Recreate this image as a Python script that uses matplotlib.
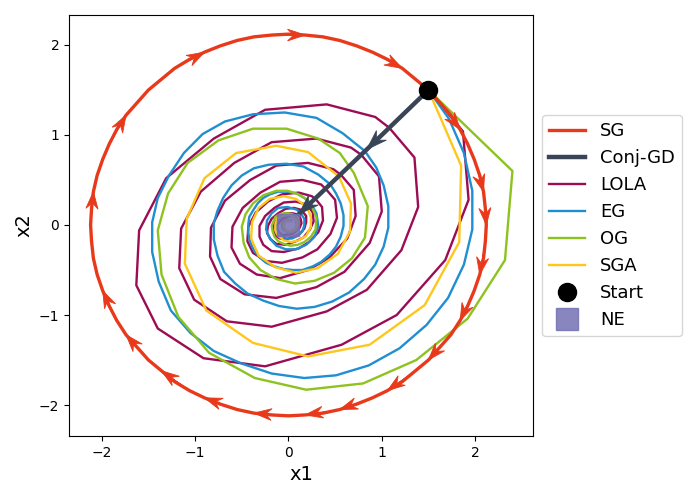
import numpy as np
import matplotlib.pyplot as plt

# trajectories, (x1, x2) pairs
sg_x = [1.50, 1.62, 1.74, 1.84, 1.92, 1.99, 2.05, 2.09, 2.11, 2.12, 2.11, 2.09, 2.05, 1.99, 1.92, 1.84, 1.74, 1.62,
        1.50, 1.36, 1.22, 1.06, 0.90, 0.73, 0.55, 0.37, 0.18, 0.00, -0.18, -0.37, -0.55, -0.73, -0.90, -1.06, -1.22, -1.36,
        -1.50, -1.62, -1.74, -1.84, -1.92, -1.99, -2.05, -2.09, -2.11, -2.12, -2.11, -2.09, -2.05, -1.99, -1.92, -1.84, -1.74, -1.62,
        -1.50, -1.36, -1.22, -1.06, -0.90, -0.73, -0.55, -0.37, -0.18, 0.00, 0.18, 0.37, 0.55, 0.73, 0.90, 1.06, 1.22, 1.36, 1.50]
sg_y = [1.50, 1.36, 1.22, 1.06, 0.90, 0.73, 0.55, 0.37, 0.18, 0.00, -0.18, -0.37, -0.55, -0.73, -0.90, -1.06, -1.22, -1.36,
        -1.50, -1.62, -1.74, -1.84, -1.92, -1.99, -2.05, -2.09, -2.11, -2.12, -2.11, -2.09, -2.05, -1.99, -1.92, -1.84, -1.74, -1.62,
        -1.50, -1.36, -1.22, -1.06, -0.90, -0.73, -0.55, -0.37, -0.18, 0.00, 0.18, 0.37, 0.55, 0.73, 0.90, 1.06, 1.22, 1.36,
        1.50, 1.62, 1.74, 1.84, 1.92, 1.99, 2.05, 2.09, 2.11, 2.12, 2.11, 2.09, 2.05, 1.99, 1.92, 1.84, 1.74, 1.62, 1.50]
sg_arrows = [70, 3, 7, 9, 12, 15, 18, 21, 24, 26, 29, 32, 35, 38, 41, 47, 52, 58, 64]

conj_pts = [(1.50, 1.50), (0.84, 0.84), (0.11, 0.12)]
conj_arrows = [1, 2]

lola_pts = [
    (1.50, 1.50), (1.87, 1.04), (1.93, 0.28), (1.68, -0.39), (1.16, -1.00), (0.57, -1.33), (-0.25, -1.57), (-0.91, -1.48),
    (-1.40, -1.15), (-1.63, -0.67), (-1.60, -0.06), (-1.31, 0.52), (-0.80, 0.96), (-0.25, 1.28), (0.41, 1.34), (0.93, 1.20),
    (1.08, 1.08), (1.35, 0.75), (1.39, 0.20), (1.21, -0.28), (0.84, -0.72), (0.41, -0.96), (-0.18, -1.13), (-0.66, -1.07),
    (-1.01, -0.83), (-1.17, -0.48), (-1.15, -0.04), (-0.94, 0.37), (-0.58, 0.69), (-0.18, 0.92), (0.30, 0.96), (0.67, 0.86),
    (0.78, 0.78), (0.97, 0.54), (1.00, 0.15), (0.87, -0.20), (0.60, -0.52), (0.30, -0.69), (-0.13, -0.81), (-0.47, -0.77),
    (-0.73, -0.60), (-0.84, -0.35), (-0.83, -0.03), (-0.68, 0.27), (-0.41, 0.50), (-0.13, 0.66), (0.21, 0.69), (0.48, 0.62),
    (0.56, 0.56), (0.70, 0.39), (0.72, 0.10), (0.63, -0.15), (0.43, -0.37), (0.21, -0.50), (-0.09, -0.59), (-0.34, -0.55),
    (-0.52, -0.43), (-0.61, -0.25), (-0.60, -0.02), (-0.49, 0.19), (-0.30, 0.36), (-0.09, 0.48), (0.15, 0.50), (0.35, 0.45),
    (0.40, 0.40), (0.50, 0.28), (0.52, 0.08), (0.45, -0.10), (0.31, -0.27), (0.15, -0.36), (-0.07, -0.42), (-0.24, -0.40),
    (-0.38, -0.31), (-0.44, -0.18), (-0.43, -0.02), (-0.35, 0.14), (-0.22, 0.26), (-0.07, 0.34), (0.11, 0.36), (0.25, 0.32),
    (0.29, 0.29), (0.36, 0.20), (0.37, 0.05), (0.32, -0.08), (0.22, -0.19), (0.11, -0.26), (-0.05, -0.30), (-0.18, -0.29),
    (-0.27, -0.22), (-0.31, -0.13), (-0.31, -0.01), (-0.25, 0.10), (-0.15, 0.19), (-0.05, 0.25), (0.08, 0.26), (0.18, 0.23),
    (0.21, 0.21), (0.26, 0.14), (0.27, 0.04), (0.23, -0.05), (0.16, -0.14), (0.08, -0.18), (-0.03, -0.22), (-0.13, -0.21),
    (-0.19, -0.16), (-0.23, -0.09), (-0.22, -0.01), (-0.18, 0.07), (-0.11, 0.13), (-0.03, 0.18), (0.06, 0.19), (0.13, 0.17),
    (0.15, 0.15), (0.19, 0.10), (0.19, 0.03), (0.17, -0.04), (0.12, -0.10), (0.06, -0.13), (-0.03, -0.16), (-0.09, -0.15),
    (-0.14, -0.12), (-0.16, -0.07), (-0.16, -0.01), (-0.13, 0.05), (-0.08, 0.10), (-0.03, 0.13), (0.04, 0.13), (0.09, 0.12),
    (0.11, 0.11), (0.13, 0.07), (0.14, 0.02), (0.12, -0.03), (0.08, -0.07), (0.04, -0.10), (-0.02, -0.11), (-0.07, -0.11),
    (-0.10, -0.08), (-0.12, -0.05), (-0.12, 0.00), (-0.09, 0.04), (-0.06, 0.07), (-0.02, 0.09), (0.03, 0.10), (0.07, 0.09),
]

eg_pts = [
    (1.50, 1.50), (1.72, 1.18), (1.88, 0.80), (1.97, 0.38), (1.97, -0.05), (1.88, -0.44), (1.71, -0.81), (1.48, -1.11),
    (1.19, -1.37), (0.86, -1.56), (0.51, -1.67), (0.17, -1.70), (-0.18, -1.65), (-0.50, -1.54), (-0.80, -1.40), (-1.05, -1.20),
    (-1.26, -0.95), (-1.39, -0.63), (-1.46, -0.30), (-1.46, 0.03), (-1.40, 0.30), (-1.28, 0.55), (-1.12, 0.80), (-0.92, 1.01),
    (-0.68, 1.15), (-0.38, 1.23), (-0.04, 1.25), (0.30, 1.19), (0.58, 1.02),
    (0.82, 0.82), (0.94, 0.64), (1.02, 0.44), (1.07, 0.21), (1.07, -0.03), (1.02, -0.24), (0.93, -0.44), (0.81, -0.60),
    (0.65, -0.75), (0.47, -0.85), (0.28, -0.91), (0.09, -0.93), (-0.10, -0.90), (-0.27, -0.84), (-0.44, -0.76), (-0.57, -0.65),
    (-0.69, -0.52), (-0.76, -0.34), (-0.80, -0.16), (-0.80, 0.02), (-0.76, 0.16), (-0.70, 0.30), (-0.61, 0.44), (-0.50, 0.55),
    (-0.37, 0.63), (-0.21, 0.67), (-0.02, 0.68), (0.16, 0.65), (0.32, 0.56),
    (0.45, 0.45), (0.51, 0.35), (0.56, 0.24), (0.59, 0.11), (0.59, -0.01), (0.56, -0.13), (0.51, -0.24), (0.44, -0.33),
    (0.35, -0.41), (0.26, -0.46), (0.15, -0.50), (0.05, -0.50), (-0.05, -0.49), (-0.15, -0.46), (-0.24, -0.42), (-0.31, -0.36),
    (-0.37, -0.28), (-0.41, -0.19), (-0.43, -0.09), (-0.43, 0.01), (-0.42, 0.09), (-0.38, 0.16), (-0.33, 0.24), (-0.27, 0.30),
    (-0.20, 0.34), (-0.11, 0.37), (-0.01, 0.37), (0.09, 0.35), (0.17, 0.30),
    (0.24, 0.24), (0.30, 0.13), (0.32, -0.01), (0.28, -0.13), (0.19, -0.22), (0.08, -0.27), (-0.03, -0.27), (-0.13, -0.23),
    (-0.20, -0.15), (-0.24, -0.05), (-0.23, 0.05), (-0.18, 0.13), (-0.11, 0.19), (-0.01, 0.20), (0.09, 0.17),
    (0.13, 0.13), (0.17, 0.07), (0.17, 0.00), (0.15, -0.07), (0.10, -0.12), (0.04, -0.15), (-0.02, -0.15), (-0.07, -0.12),
    (-0.11, -0.08), (-0.13, -0.03), (-0.12, 0.03), (-0.10, 0.07), (-0.06, 0.10), (0.00, 0.11), (0.05, 0.09),
    (0.07, 0.07), (0.09, 0.00), (0.06, -0.07), (0.00, -0.08), (-0.06, -0.05), (-0.07, 0.01), (-0.03, 0.06), (0.03, 0.05),
]

og_pts = [
    (1.50, 1.50),
    (2.40, 0.60), (2.32, -0.39), (1.92, -1.04), (1.37, -1.50), (0.80, -1.76), (0.19, -1.83), (-0.36, -1.70), (-0.85, -1.42),
    (-1.18, -1.02), (-1.36, -0.55), (-1.40, -0.06), (-1.29, 0.35), (-1.08, 0.69), (-0.75, 0.94), (-0.38, 1.07), (-0.02, 1.07),
    (0.32, 0.96), (0.55, 0.80), (0.70, 0.58),
    (0.85, 0.21), (0.82, -0.14), (0.68, -0.37), (0.49, -0.53), (0.28, -0.62), (0.07, -0.65), (-0.13, -0.60), (-0.30, -0.50),
    (-0.42, -0.36), (-0.48, -0.20), (-0.50, -0.02), (-0.46, 0.12), (-0.38, 0.24), (-0.27, 0.33), (-0.13, 0.38), (-0.01, 0.38),
    (0.11, 0.34), (0.20, 0.28), (0.25, 0.21),
    (0.30, 0.08), (0.29, -0.05), (0.24, -0.13), (0.17, -0.19), (0.10, -0.22), (0.02, -0.23), (-0.05, -0.21), (-0.11, -0.18),
    (-0.15, -0.13), (-0.17, -0.07), (-0.18, -0.01), (-0.16, 0.04), (-0.14, 0.09), (-0.09, 0.12), (-0.05, 0.13), (0.00, 0.13),
    (0.04, 0.12), (0.07, 0.10), (0.09, 0.07),
    (0.11, 0.03), (0.09, -0.05), (0.04, -0.08), (-0.02, -0.08), (-0.06, -0.04), (-0.06, 0.02), (-0.03, 0.05), (0.01, 0.05),
]

sga_pts = [
    (1.50, 1.50), (1.85, 0.66), (1.83, -0.19), (1.46, -0.89), (0.87, -1.33), (0.21, -1.46), (-0.38, -1.31), (-0.88, -0.95),
    (-1.11, -0.43), (-1.09, 0.07), (-0.90, 0.52), (-0.56, 0.80), (-0.13, 0.88), (0.21, 0.81),
    (0.54, 0.54), (0.67, 0.24), (0.66, -0.07), (0.53, -0.32), (0.31, -0.48), (0.08, -0.53), (-0.14, -0.47), (-0.32, -0.34),
    (-0.40, -0.15), (-0.39, 0.03), (-0.32, 0.19), (-0.20, 0.29), (-0.05, 0.32), (0.08, 0.29),
    (0.20, 0.20), (0.24, 0.09), (0.24, -0.02), (0.19, -0.12), (0.11, -0.17), (0.03, -0.19), (-0.05, -0.17), (-0.11, -0.12),
    (-0.14, -0.06), (-0.14, 0.01), (-0.12, 0.07), (-0.07, 0.10), (-0.02, 0.11), (0.03, 0.11),
    (0.07, 0.07), (0.09, 0.03), (0.09, -0.01), (0.07, -0.04), (0.04, -0.06), (0.01, -0.07), (-0.02, -0.06), (-0.04, -0.04),
    (-0.05, -0.02), (-0.05, 0.00), (-0.04, 0.02), (-0.03, 0.04), (-0.01, 0.04), (0.01, 0.04),
]

start = (1.5, 1.5)
ne = (0.0, 0.0)

c_sg = '#e8391b'
c_conj = '#3a4457'
c_lola = '#9c0c55'
c_eg = '#1f8fd1'
c_og = '#8dc21f'
c_sga = '#ffc61c'
c_ne = '#7570b3'

fig = plt.figure(figsize=(6.98, 4.98), dpi=100)
ax = fig.add_axes([0.0989, 0.1245, 0.6648, 0.8454])


def draw_heads(xs, ys, idx, back, color, hw, hl):
    # arrow head whose tip sits on point i, aimed along the path
    for i in idx:
        j = i - back
        ax.arrow(xs[j], ys[j], xs[i] - xs[j], ys[i] - ys[j],
                 width=0.0, head_width=hw, head_length=hl, overhang=0.35,
                 length_includes_head=True, color=color, lw=0.6, zorder=6)


ax.plot(sg_x, sg_y, color=c_sg, lw=2.4, label='SG', zorder=5)
draw_heads(sg_x, sg_y, sg_arrows, 2, c_sg, 0.13, 0.19)

cx, cy = zip(*conj_pts)
ax.plot(cx, cy, color=c_conj, lw=3.2, label='Conj-GD', zorder=7)
draw_heads(cx, cy, conj_arrows, 1, c_conj, 0.15, 0.22)

for pts, c, name in [(lola_pts, c_lola, 'LOLA'), (eg_pts, c_eg, 'EG'),
                     (og_pts, c_og, 'OG'), (sga_pts, c_sga, 'SGA')]:
    px, py = zip(*pts)
    ax.plot(px, py, color=c, lw=1.7, label=name, zorder=3)

ax.plot(*start, 'o', color='black', markersize=13, label='Start', linestyle='none', zorder=8)
ax.plot(*ne, 's', color=c_ne, markersize=16, alpha=0.85, label='NE', linestyle='none', zorder=8)

ax.set_xlim(-2.351, 2.621)
ax.set_ylim(-2.344, 2.333)
ax.set_xticks([-2, -1, 0, 1, 2])
ax.set_yticks([-2, -1, 0, 1, 2])
ax.set_xlabel('x1', fontsize=14)
ax.set_ylabel('x2', fontsize=14)

ax.legend(loc='center left', bbox_to_anchor=(1.0, 0.5), fontsize=13)

fig.savefig('out.png', dpi=100)
